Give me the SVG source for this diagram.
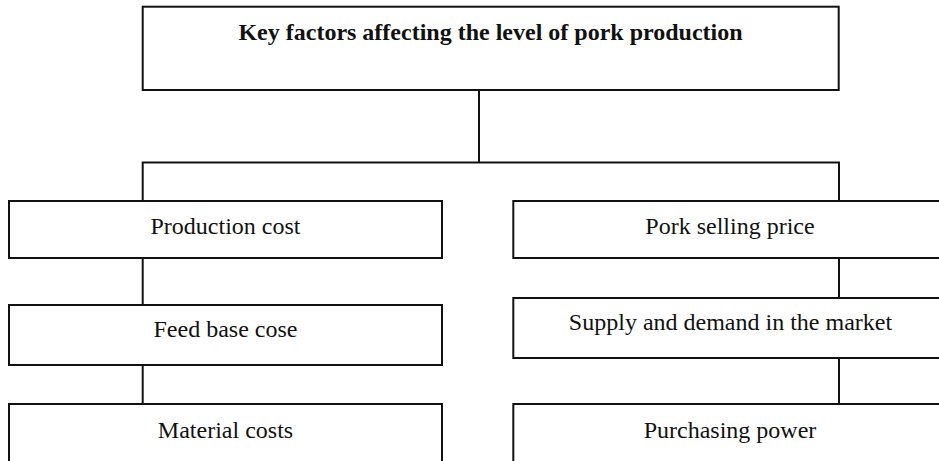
<svg xmlns="http://www.w3.org/2000/svg" width="939" height="461" viewBox="0 0 939 461">
  <style>
    .box { fill: #ffffff; stroke: #111111; stroke-width: 2; }
    .link { fill: none; stroke: #111111; stroke-width: 2; }
    .label { font-family: 'Liberation Serif', 'DejaVu Serif', serif; font-size: 24px; fill: #111111; text-anchor: middle; }
    .title { font-weight: bold; }
  </style>
  <rect width="939" height="461" fill="#ffffff"/>

  <!-- connectors -->
  <g id="connectors">
    <polyline class="link" points="479,90 479,162.5"/>
    <polyline class="link" points="142.7,201 142.7,162.5 839,162.5 839,201"/>
    <line class="link" x1="142.7" y1="258" x2="142.7" y2="305"/>
    <line class="link" x1="142.7" y1="365" x2="142.7" y2="404"/>
    <line class="link" x1="839" y1="258" x2="839" y2="298"/>
    <line class="link" x1="839" y1="358" x2="839" y2="404"/>
  </g>

  <!-- root -->
  <g id="root">
    <rect class="box" x="142.7" y="6.7" width="696" height="83.3"/>
    <text class="label title" x="490.5" y="40">Key factors affecting the level of pork production</text>
  </g>

  <!-- cost branch -->
  <g id="production-cost">
    <rect class="box" x="9" y="201" width="433" height="57"/>
    <text class="label" x="225.5" y="234">Production cost</text>
  </g>
  <g id="feed-base-cose">
    <rect class="box" x="9" y="305" width="433" height="60"/>
    <text class="label" x="225.5" y="336.7">Feed base cose</text>
  </g>
  <g id="material-costs">
    <rect class="box" x="9" y="404" width="433" height="70"/>
    <text class="label" x="225.5" y="438">Material costs</text>
  </g>

  <!-- price branch -->
  <g id="pork-selling-price">
    <rect class="box" x="513.3" y="201" width="433" height="57"/>
    <text class="label" x="730" y="233.5">Pork selling price</text>
  </g>
  <g id="supply-and-demand">
    <rect class="box" x="513.3" y="298" width="433" height="60"/>
    <text class="label" x="730.5" y="330">Supply and demand in the market</text>
  </g>
  <g id="purchasing-power">
    <rect class="box" x="513.3" y="404" width="433" height="70"/>
    <text class="label" x="730" y="438">Purchasing power</text>
  </g>
</svg>
